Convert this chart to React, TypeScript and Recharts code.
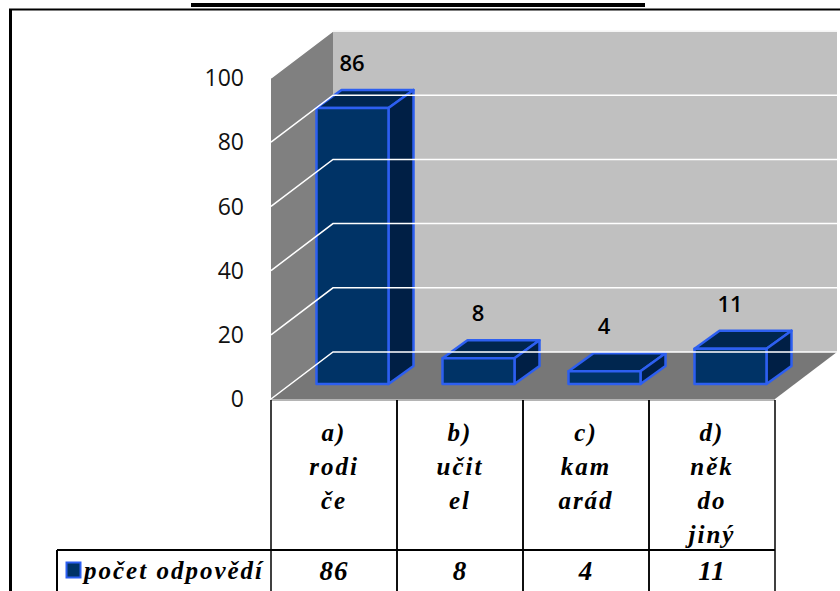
import { BarChart, Bar, XAxis, YAxis, ReferenceArea, ReferenceLine, LabelList } from "recharts";

const categories = ["a) rodiče", "b) učitel", "c) kamarád", "d) někdo jiný"];
const categoryLines = [
  ["a)", "rodi", "če"],
  ["b)", "učit", "el"],
  ["c)", "kam", "arád"],
  ["d)", "něk", "do", "jiný"],
];
const answers = [86, 8, 4, 11];
const yTicks = [0, 20, 40, 60, 80, 100];
const seriesName = "počet odpovědí";

const rows = categories.map((name, i) => ({ name, lines: categoryLines[i], answers: answers[i] }));

const BAND = 126;
const WALL_DX = 62;
const WALL_DY = 47;
const BAR_DX = 18.5;
const BAR_DY = 15;
const SIDE_DX = 25;
const SIDE_DY = 18;
const TABLE_TOP = 400;
const TABLE_FONT = "'Liberation Serif', serif";

function Walls({ x, y, width, height }: any) {
  const b = y + height;
  const r = x + width;
  return (
    <g>
      <polygon points={`${x + WALL_DX},${y - WALL_DY} ${r + WALL_DX},${y - WALL_DY} ${r + WALL_DX},${b - WALL_DY} ${x + WALL_DX},${b - WALL_DY}`} fill="#c0c0c0" />
      <polygon points={`${x},${y} ${x + WALL_DX},${y - WALL_DY} ${x + WALL_DX},${b - WALL_DY} ${x},${b}`} fill="#808080" />
      <polygon points={`${x},${b} ${x + WALL_DX},${b - WALL_DY} ${r + WALL_DX},${b - WALL_DY} ${r},${b}`} fill="#777777" />
      <line x1={x + WALL_DX} y1={y - WALL_DY} x2={r + WALL_DX} y2={y - WALL_DY} stroke="#dddddd" strokeWidth={1.5} />
    </g>
  );
}

function WallLine({ x1, y1, x2, y2 }: any) {
  return (
    <polyline
      points={`${x1},${y1} ${x1 + WALL_DX},${y1 - WALL_DY} ${x2 + WALL_DX},${y2 - WALL_DY}`}
      fill="none"
      stroke="#ffffff"
      strokeWidth={1.5}
    />
  );
}

function Box({ x, y, width, height, fill }: any) {
  const fx = x + BAR_DX;
  const fy = y - BAR_DY;
  const edge = { stroke: "#2d5ff0", strokeWidth: 2.5, strokeLinejoin: "round" as const };
  return (
    <g>
      <polygon
        points={`${fx},${fy} ${fx + SIDE_DX},${fy - SIDE_DY} ${fx + width + SIDE_DX},${fy - SIDE_DY} ${fx + width},${fy}`}
        fill="#00264f"
        {...edge}
      />
      <polygon
        points={`${fx + width},${fy} ${fx + width + SIDE_DX},${fy - SIDE_DY} ${fx + width + SIDE_DX},${fy + height - SIDE_DY} ${fx + width},${fy + height}`}
        fill="#001f45"
        {...edge}
      />
      <rect x={fx} y={fy} width={width} height={height} fill={fill} {...edge} />
    </g>
  );
}

function BarValue({ x, y, width, value }: any) {
  return (
    <text x={x + width / 2 + 18} y={y - 52} textAnchor="middle" fontFamily="'Open Sans', sans-serif" fontWeight={600} fontSize={22} fill="#000000">
      {value}
    </text>
  );
}

function TableTick({ x, payload, index }: any) {
  const lines: string[] = categoryLines[index] ?? [];
  const left = x - BAND / 2;
  const right = x + BAND / 2;
  return (
    <g>
      <line x1={left} y1={TABLE_TOP} x2={left} y2={591} stroke="#000000" strokeWidth={1.5} />
      <line x1={right} y1={TABLE_TOP} x2={right} y2={591} stroke="#000000" strokeWidth={1.5} />
      {lines.map((t, i) => (
        <text
          key={t + payload.value}
          x={x}
          y={TABLE_TOP + 41 + i * 34}
          textAnchor="middle"
          fontFamily={TABLE_FONT}
          fontStyle="italic"
          fontWeight={700}
          fontSize={25}
          letterSpacing={2}
          fill="#000000"
        >
          {t}
        </text>
      ))}
      <text x={x} y={580} textAnchor="middle" fontFamily={TABLE_FONT} fontStyle="italic" fontWeight={700} fontSize={27} letterSpacing={1} fill="#000000">
        {answers[index]}
      </text>
    </g>
  );
}

export default function App() {
  return (
    <div style={{ position: "fixed", left: 0, top: 0, width: 840, height: 591, overflow: "hidden", background: "#ffffff" }}>
      <BarChart width={840} height={591} data={rows} margin={{ left: 0, right: 65, top: 78, bottom: 0 }} barSize={72}>
        <XAxis
          dataKey="name"
          axisLine={false}
          tickLine={false}
          tickMargin={0}
          height={192}
          interval={0}
          tick={<TableTick />}
        />
        <YAxis
          type="number"
          domain={[0, 100]}
          ticks={yTicks}
          width={271}
          axisLine={false}
          tickLine={false}
          tickMargin={21}
          tick={{ fontFamily: "'Open Sans', sans-serif", fontSize: 23, fill: "#111111" }}
        />
        <ReferenceArea y1={0} y2={100} shape={<Walls />} ifOverflow="visible" />
        {yTicks.map((t) => (
          <ReferenceLine key={t} y={t} ifOverflow="visible" shape={<WallLine />} />
        ))}
        <Bar dataKey="answers" name={seriesName} fill="#003366" shape={<Box />} isAnimationActive={false}>
          <LabelList dataKey="answers" content={<BarValue />} />
        </Bar>
        <g>
          <line x1={271} y1={400} x2={775} y2={400} stroke="#b4b4b4" strokeWidth={2} />
          <line x1={57} y1={550} x2={775} y2={550} stroke="#000000" strokeWidth={2} />
          <line x1={57} y1={550} x2={57} y2={591} stroke="#000000" strokeWidth={2} />
          <rect x={66.5} y={562.5} width={14} height={15} fill="#003366" stroke="#2d5ff0" strokeWidth={2} />
          <text x={84} y={579} fontFamily={TABLE_FONT} fontStyle="italic" fontWeight={700} fontSize={25} letterSpacing={2} fill="#000000">
            {seriesName}
          </text>
          <line x1={9} y1={9.5} x2={840} y2={9.5} stroke="#000000" strokeWidth={2} />
          <line x1={10.5} y1={9} x2={10.5} y2={591} stroke="#000000" strokeWidth={3} />
          <line x1={191} y1={5} x2={645} y2={5} stroke="#000000" strokeWidth={4} />
        </g>
      </BarChart>
    </div>
  );
}
